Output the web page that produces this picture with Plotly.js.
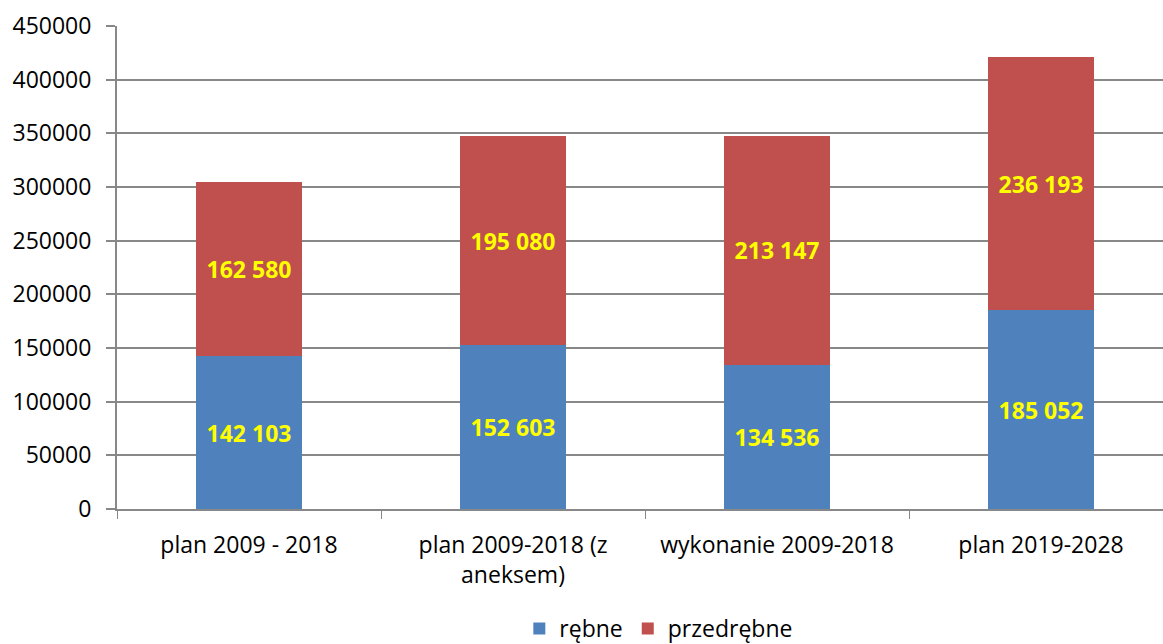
<!DOCTYPE html>
<html>
<head>
<meta charset="utf-8">
<script src="https://cdn.plot.ly/plotly-3.0.1.min.js"></script>
<style>html,body{margin:0;padding:0;background:#fff;}#chart{width:1163px;height:644px;}</style>
</head>
<body>
<div id="chart"></div>
<script>
const categories = ["plan 2009 - 2018", "plan 2009-2018 (z<br>aneksem)", "wykonanie 2009-2018", "plan 2019-2028"];
const rebne = [142103, 152603, 134536, 185052];
const przedrebne = [162580, 195080, 213147, 236193];
const seriesNames = ["rębne", "przedrębne"];
const yTicks = [0, 50000, 100000, 150000, 200000, 250000, 300000, 350000, 400000, 450000];

function fmt(v) {
  return String(v).replace(/\B(?=(\d{3})+(?!\d))/g, " ");
}

const labelFont = {family: "Open Sans", size: 23, color: "#FFFF00", weight: "bold"};

const traces = [
  {
    type: "bar", name: seriesNames[0], x: categories, y: rebne,
    marker: {color: "#4F81BD"},
    text: rebne.map(fmt), textposition: "inside", insidetextanchor: "middle",
    textfont: labelFont, hoverinfo: "none", constraintext: "none"
  },
  {
    type: "bar", name: seriesNames[1], x: categories, y: przedrebne,
    marker: {color: "#C0504D"},
    text: przedrebne.map(fmt), textposition: "inside", insidetextanchor: "middle",
    textfont: labelFont, hoverinfo: "none", constraintext: "none"
  }
];

const layout = {
  width: 1163, height: 644,
  margin: {l: 117, r: 0, t: 26, b: 135, autoexpand: false},
  barmode: "stack",
  bargap: 0.6,
  paper_bgcolor: "#fff", plot_bgcolor: "#fff",
  font: {family: "Open Sans", size: 23, color: "#000"},
  showlegend: true,
  legend: {
    orientation: "h", x: 0.518, xanchor: "center", y: -0.292, yanchor: "bottom",
    font: {family: "Open Sans", size: 23, color: "#000"},
    itemwidth: 30, traceorder: "normal"
  },
  xaxis: {
    type: "category",
    range: [-0.5, 3.462],
    automargin: false,
    showline: true, linecolor: "#888", linewidth: 2,
    ticks: "outside", tickson: "boundaries", ticklen: 8, tickcolor: "#888", tickwidth: 1,
    ticklabelstandoff: 14,
    showgrid: false, zeroline: false,
    tickfont: {family: "Open Sans", size: 23, color: "#000"}
  },
  yaxis: {
    range: [0, 450000],
    automargin: false,
    tickvals: yTicks, ticktext: yTicks.map(String),
    showline: true, linecolor: "#888", linewidth: 2,
    ticks: "outside", ticklen: 9, tickcolor: "#888", tickwidth: 2,
    ticklabelstandoff: 10,
    showgrid: true, gridcolor: "#888", gridwidth: 2,
    zeroline: false,
    tickfont: {family: "Open Sans", size: 23, color: "#000"}
  }
};

Plotly.newPlot("chart", traces, layout, {displayModeBar: false, staticPlot: true});
</script>
</body>
</html>
